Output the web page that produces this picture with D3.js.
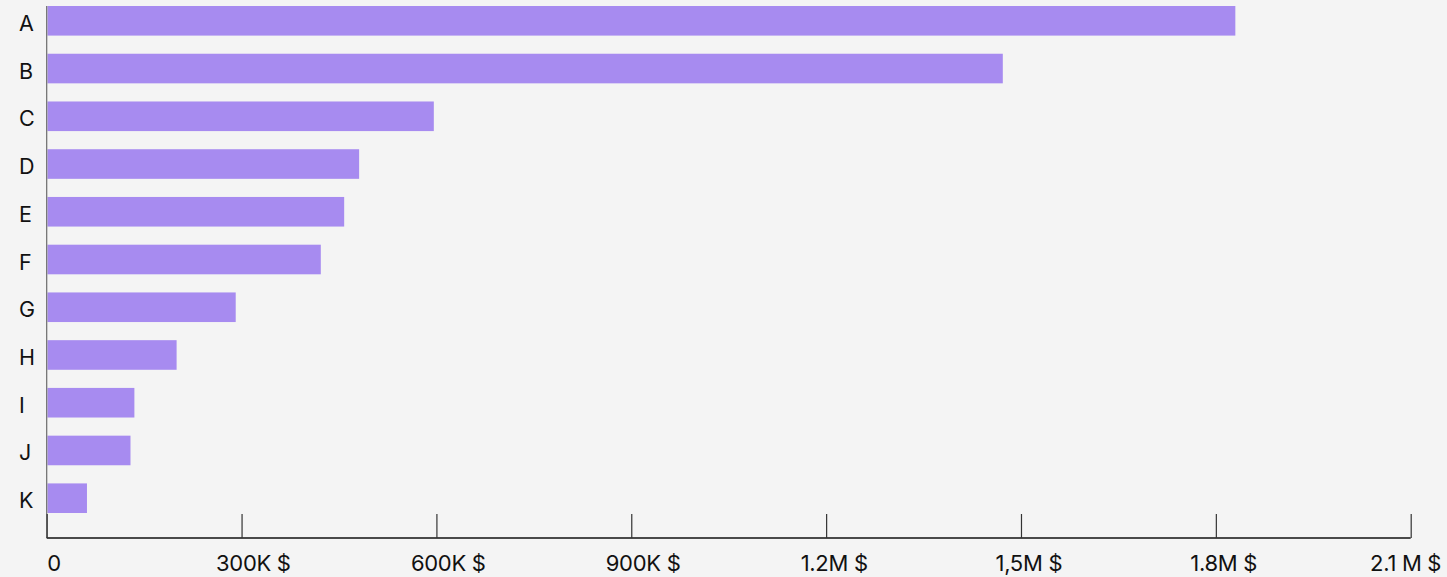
<!DOCTYPE html>
<html>
<head>
<meta charset="utf-8">
<script src="https://cdn.jsdelivr.net/npm/d3@7"></script>
<style>
  html, body { margin: 0; padding: 0; background: #f4f4f4; }
  svg { display: block; font-family: Inter, "Noto Sans", sans-serif; }
</style>
</head>
<body>
<svg id="chart" width="1447" height="577"></svg>
<script>
const categories = ["A", "B", "C", "D", "E", "F", "G", "H", "I", "J", "K"];
const values = [1830000, 1472000, 596000, 481000, 458000, 422000, 291000, 200000, 135000, 129000, 62000];
const tickValues = [0, 300000, 600000, 900000, 1200000, 1500000, 1800000, 2100000];
const tickLabels = ["0", "300K $", "600K $", "900K $", "1.2M $", "1,5M $", "1.8M $", "2.1 M $"];

const W = 1447, H = 577;
const margin = { left: 46.7, right: 36.3, top: 6, bottomBars: 513, axisY: 538 };

const svg = d3.select("#chart");

const x = d3.scaleLinear()
  .domain([0, 2100000])
  .range([margin.left, W - margin.right]);

const y = d3.scaleBand()
  .domain(categories)
  .range([margin.top, margin.bottomBars])
  .paddingInner(0.38)
  .paddingOuter(0);

// bars
svg.append("g")
  .selectAll("rect")
  .data(categories)
  .join("rect")
  .attr("x", x(0) + 0.8)
  .attr("y", (d) => y(d))
  .attr("width", (d, i) => x(values[i]) - x(0) - 0.8)
  .attr("height", y.bandwidth())
  .attr("fill", "#a78bf0");

// left axis line
svg.append("line")
  .attr("x1", x(0)).attr("x2", x(0))
  .attr("y1", margin.top).attr("y2", margin.axisY)
  .attr("stroke", "#6b6b6b")
  .attr("stroke-width", 1.2);

// category labels
svg.append("g")
  .selectAll("text")
  .data(categories)
  .join("text")
  .attr("x", 19)
  .attr("y", (d) => y(d) + y.bandwidth() / 2 + 10)
  .attr("font-size", 21.5)
  .attr("fill", "#111")
  .text((d) => d);

// bottom axis
const xAxis = d3.axisBottom(x)
  .tickValues(tickValues)
  .tickSize(-24)
  .tickFormat((d, i) => tickLabels[i]);

const gx = svg.append("g")
  .attr("transform", `translate(0,${margin.axisY})`)
  .call(xAxis);

gx.select(".domain")
  .attr("stroke", "#111")
  .attr("stroke-width", 1.6)
  .attr("d", `M${x(0)},0H${x(2100000)}`);

gx.selectAll(".tick line")
  .attr("stroke", "#333")
  .attr("stroke-width", 1.2);

gx.selectAll(".tick text")
  .attr("font-family", "Inter, 'Noto Sans', sans-serif")
  .attr("font-size", 22)
  .attr("fill", "#111")
  .attr("letter-spacing", -0.3)
  .attr("y", 33)
  .attr("dy", 0)
  .attr("text-anchor", (d, i) => i === 0 ? "start" : (i === tickValues.length - 1 ? "end" : "start"))
  .attr("dx", (d, i) => i === 0 ? 0 : (i === tickValues.length - 1 ? 30 : -26));
</script>
</body>
</html>
